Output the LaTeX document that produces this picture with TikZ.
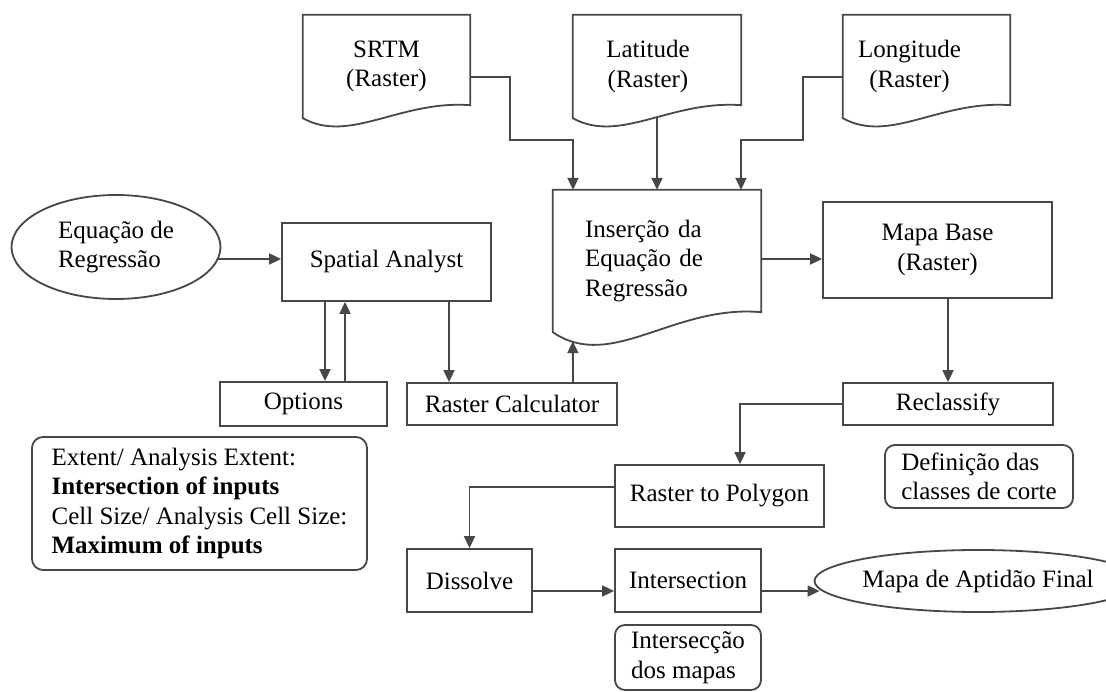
\documentclass[tikz,border=0pt]{standalone}
\usepackage{fontspec}
\setmainfont{Liberation Serif}
\usetikzlibrary{arrows.meta,calc,shapes.geometric}
\newcommand\mydocshape[2]{%
  \draw[line] (#1.south west) -- (#1.north west) -- (#1.north east) -- ([yshift=#2pt]#1.south east)
    .. controls ($(#1.south west)!0.58!(#1.south east)+(0,-1.4*#2)$) and ($(#1.south west)!0.28!(#1.south east)+(0,2*#2)$) .. (#1.south west) -- cycle;}
\begin{document}
\begin{tikzpicture}[x=1pt,y=-1pt,
  line/.style={draw=black!72, line width=1.8pt},
  arr/.style={line, -{Triangle[length=12pt,width=11pt]}},
  txt/.style={font=\fontsize{25}{29.5}\selectfont, text=black},
  box/.style={line, txt, rectangle, inner sep=0pt, align=center},
  rbox/.style={box, rounded corners=11pt, align=left},
  ell/.style={line, txt, ellipse, inner sep=0pt, align=left},
  docn/.style={txt, rectangle, inner sep=0pt, align=center}
]
\useasboundingbox (0,0) rectangle (1106,692);

% documents
\node[docn, minimum width=167pt, minimum height=103pt] (srtm) at (386.5,66.5) {SRTM\\(Raster)};
\node[docn, minimum width=168pt, minimum height=103pt] (lat) at (657,66.5) {\hspace*{-18pt}Latitude\\\hspace*{-18pt}(Raster)};
\node[docn, minimum width=167pt, minimum height=103pt] (lon) at (926.5,66.5) {\hspace*{-34pt}Longitude\\\hspace*{-34pt}(Raster)};
\node[docn, minimum width=208pt, minimum height=142pt, text width=144pt, align=left] (ins) at (657,261) {Inserção da\\Equação de\\Regressão};
\mydocshape{srtm}{13}
\mydocshape{lat}{13}
\mydocshape{lon}{13}
\mydocshape{ins}{20}

% boxes
\node[ell, minimum width=209pt, minimum height=104pt] (eq) at (116,247) {Equação de\\Regressão};
\node[box, minimum width=209pt, minimum height=78pt] (spatial) at (386.5,262) {Spatial Analyst};
\node[box, minimum width=167pt, minimum height=44pt] (options) at (303.5,404) {Options};
\node[box, minimum width=210pt, minimum height=42pt] (rcalc) at (512,404) {Raster Calculator};
\node[box, minimum width=229pt, minimum height=96pt] (mapabase) at (937.5,250) {Mapa Base\\(Raster)};
\node[box, minimum width=210pt, minimum height=42pt] (reclass) at (948,404) {Reclassify};
\node[box, minimum width=209pt, minimum height=62pt] (r2p) at (719.5,496) {Raster to Polygon};
\node[box, minimum width=125pt, minimum height=63pt] (dissolve) at (469.5,580.5) {Dissolve};
\node[box, minimum width=146pt, minimum height=63pt] (inters) at (688,580.5) {Intersection};
\node[ell, minimum width=270pt, minimum height=62pt] (final) at (978,581) {Mapa de Aptidão Final};

\node[rbox, minimum width=335pt, minimum height=133pt] (extent) at (199.5,503.5) {Extent/ Analysis Extent:\\\textbf{Intersection of inputs}\\Cell Size/ Analysis Cell Size:\\\textbf{Maximum of inputs}};
\node[rbox, rounded corners=10pt, minimum width=188pt, minimum height=63pt] (defin) at (979,476.5) {Definição das\\classes de corte};
\node[rbox, rounded corners=10pt, minimum width=146pt, minimum height=65pt] (interc) at (688,657.5) {Intersecção\\dos mapas};

% connectors
\coordinate (b1) at (510,140);
\coordinate (b2) at (803,140);
\coordinate (insb) at ($(ins.south west)+(20,9)$);
\draw[arr] ([yshift=-10.5pt]srtm.east) -| (b1) -| ([xshift=-84pt]ins.north);
\draw[arr] (lat.south) -- (ins.north);
\draw[arr] ([yshift=-10.5pt]lon.west) -| (b2) -| ([xshift=84pt]ins.north);
\draw[arr] ([xshift=-3pt,yshift=-12pt]eq.east) -- ([yshift=3pt]spatial.west);
\draw[arr] ([xshift=-61.5pt]spatial.south) -- ([xshift=-61.5pt]spatial.south |- options.north);
\draw[arr] ([xshift=-41.5pt]spatial.south |- options.north) -- ([xshift=-41.5pt]spatial.south);
\draw[arr] ([xshift=-63pt]rcalc.north |- spatial.south) -- ([xshift=-63pt]rcalc.north);
\draw[arr] ([xshift=61pt]rcalc.north) -- (insb);
\draw[arr] ([yshift=2pt]ins.east) -- ([yshift=2pt]ins.east -| mapabase.west);
\draw[arr] (reclass.north |- mapabase.south) -- (reclass.north);
\draw[arr] (reclass.west) -| ([xshift=20.5pt]r2p.north);
\draw[arr] ([yshift=9pt]r2p.west) -| (dissolve.north);
\draw[arr] ([yshift=-10.5pt]dissolve.east) -- ([yshift=-10.5pt]inters.west);
\draw[arr] ([yshift=-10.5pt]inters.east) -- ([xshift=6pt,yshift=-10pt]final.west);
\end{tikzpicture}
\end{document}
